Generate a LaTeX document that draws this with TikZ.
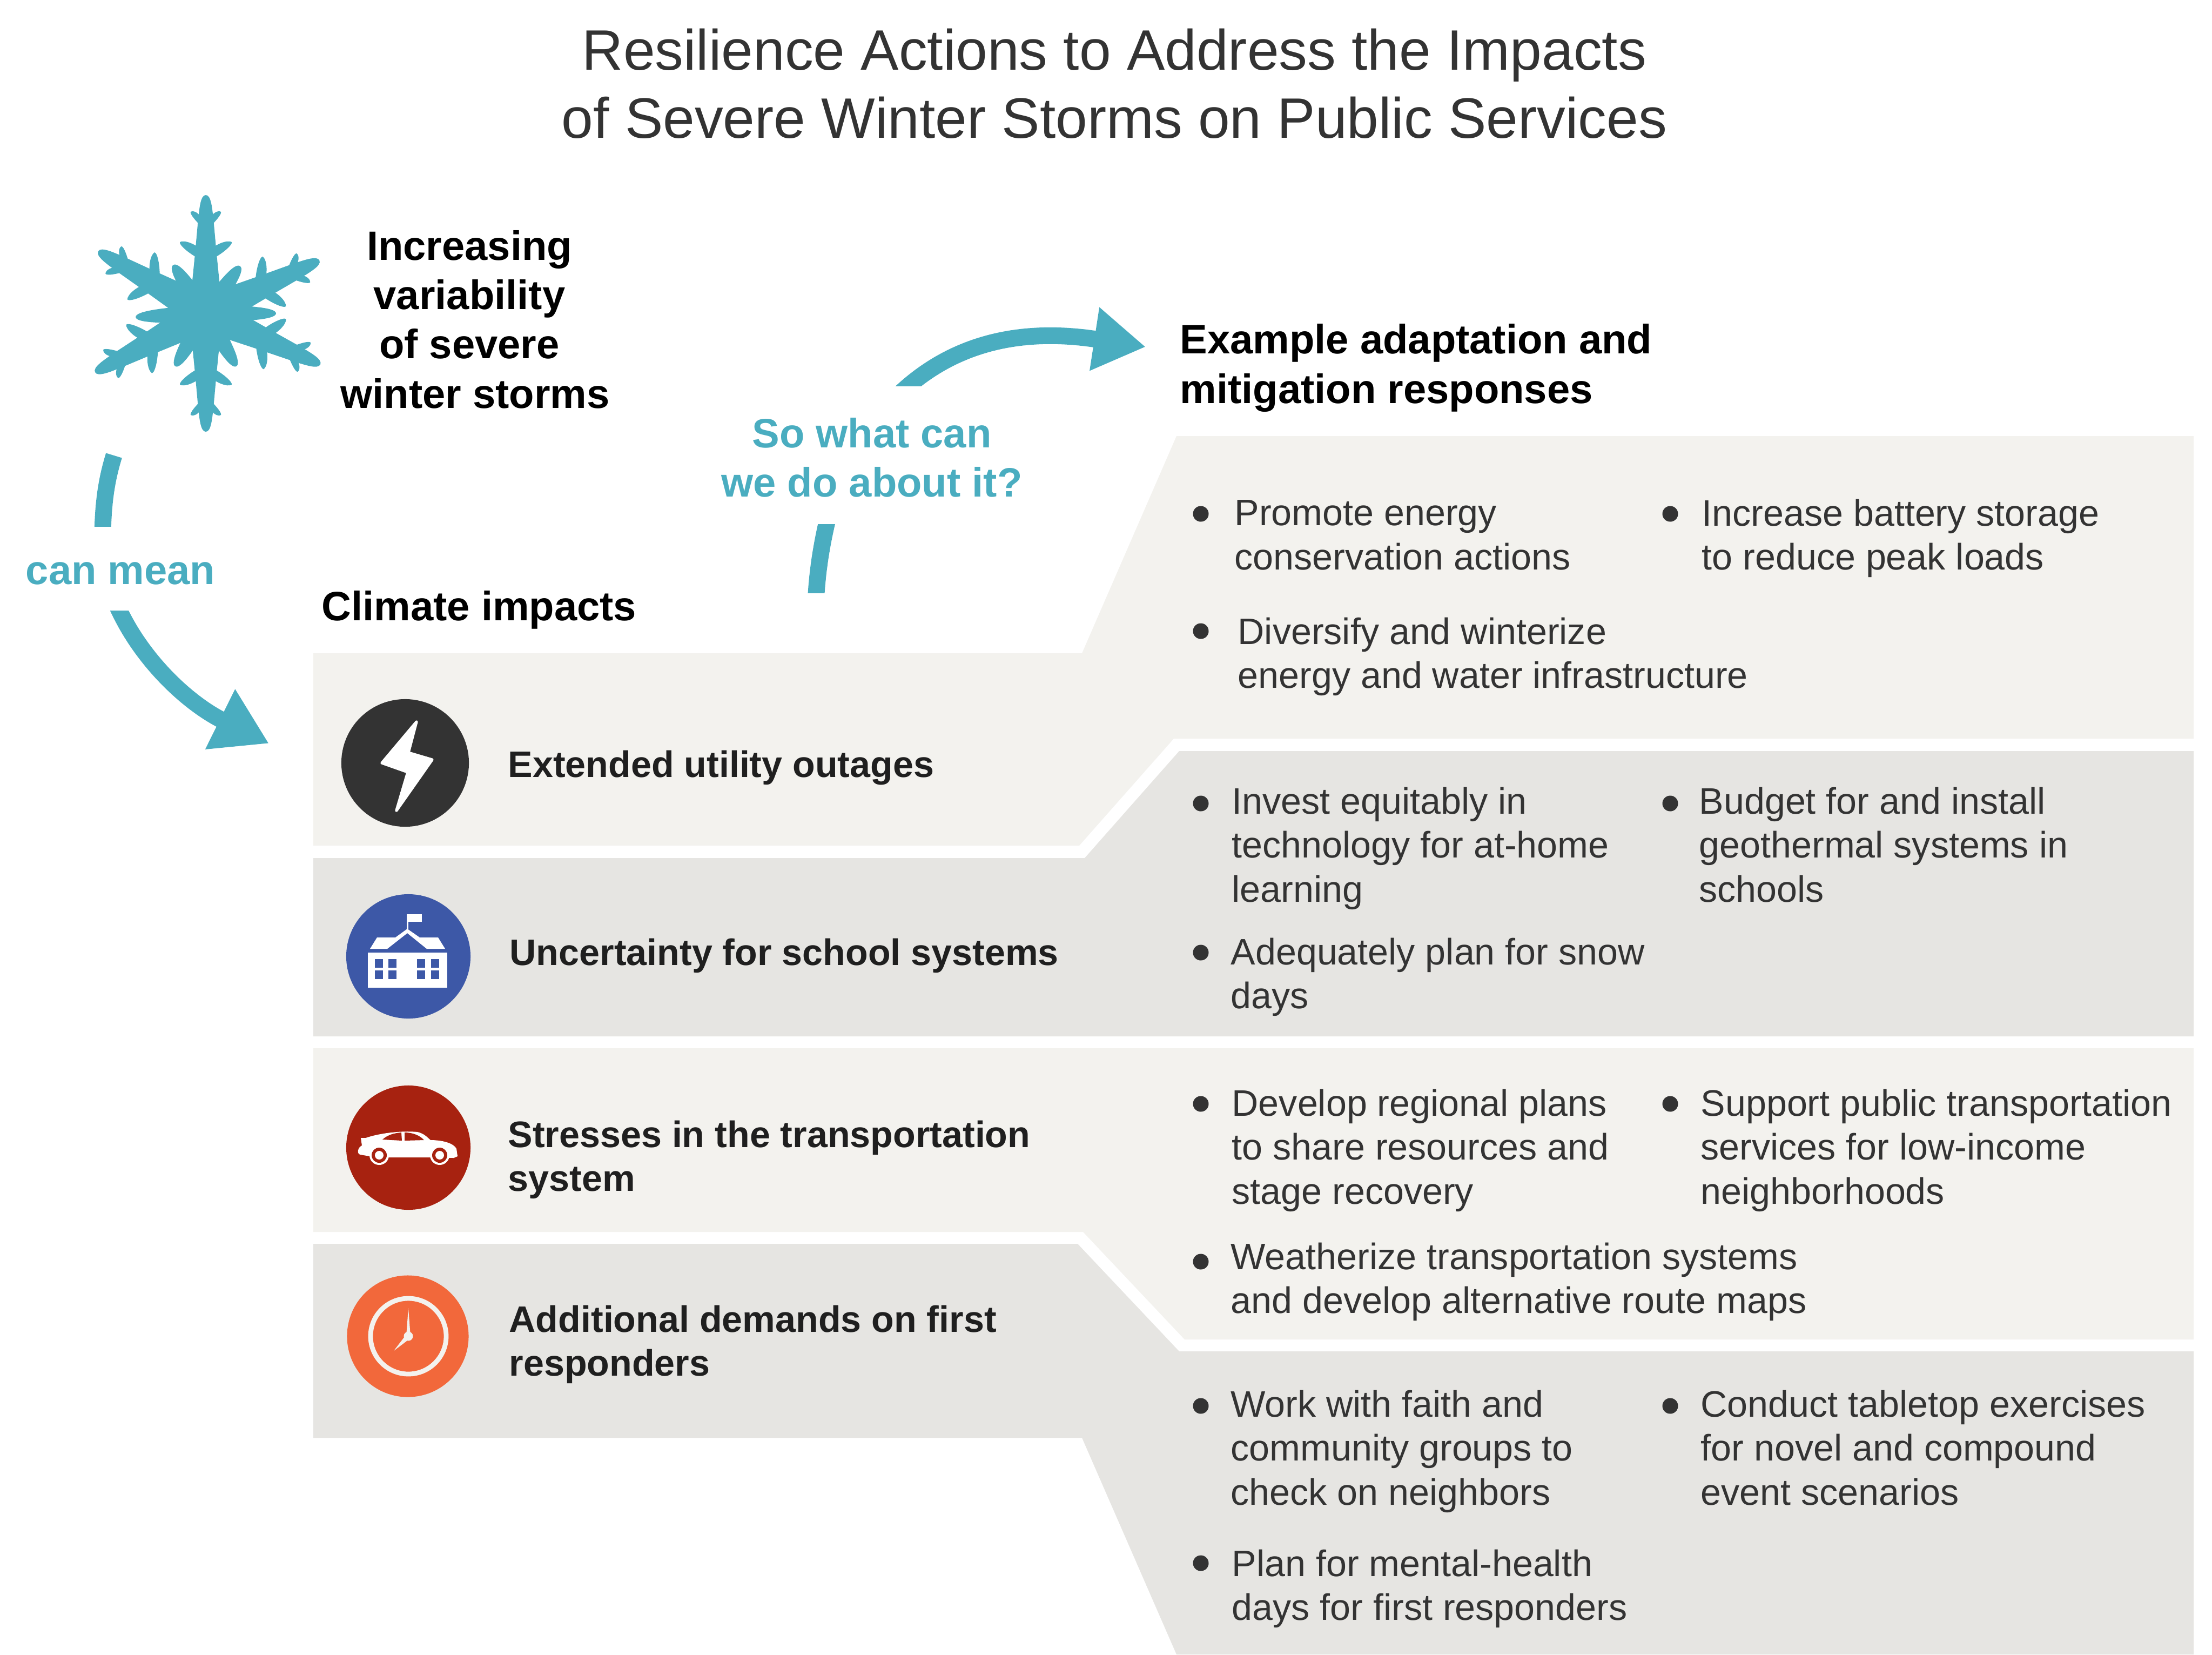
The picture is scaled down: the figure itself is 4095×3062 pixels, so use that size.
\documentclass[tikz,border=0pt]{standalone}
\usepackage{fontspec}
\setmainfont{Liberation Sans}
\usetikzlibrary{arrows.meta}
\definecolor{panellight}{HTML}{F3F2EE}
\definecolor{paneldark}{HTML}{E6E5E2}
\definecolor{stormteal}{HTML}{4AADC0}
\definecolor{inkdark}{HTML}{333333}
\definecolor{boltgrey}{HTML}{333333}
\definecolor{schoolblue}{HTML}{3D58A7}
\definecolor{carred}{HTML}{A72210}
\definecolor{clockorange}{HTML}{F2683B}
\tikzset{
	titletext/.style={font=\fontsize{30}{35.7}\selectfont, text=inkdark, align=center, inner sep=0pt},
	headtext/.style={font=\fontsize{21.6}{26}\selectfont\bfseries, text=black, inner sep=0pt},
	impacttext/.style={font=\fontsize{19.4}{23.25}\selectfont\bfseries, text=black!88, anchor=north west, align=left, inner sep=0pt, execute at begin node=\strut},
	bodytext/.style={font=\fontsize{19.4}{23.25}\selectfont, text=inkdark, anchor=north west, align=left, inner sep=0pt, execute at begin node=\strut},
	tealtext/.style={font=\fontsize{21.6}{26}\selectfont\bfseries, text=stormteal, align=center, inner sep=0pt},
	bulletdot/.style={circle, fill=inkdark, inner sep=0pt, minimum size=0.29cm},
	iconcircle/.style={circle, inner sep=0pt},
	tealline/.style={draw=stormteal, line width=8.8pt}
}
\begin{document}
\begin{tikzpicture}[x=0.01cm, y=-0.01cm]
			%%%%% START %%%%%
			\useasboundingbox (0, 0) rectangle (4095, 3062);
			
			% panels
			\fill[panellight] (580, 1209) -- (2003, 1209) -- (2178, 807) -- (4061, 807) -- (4061, 1367) -- (2173, 1367) -- (1998, 1565) -- (580, 1565) -- cycle;
			\fill[paneldark] (580, 1588) -- (2008, 1588) -- (2183, 1390) -- (4061, 1390) -- (4061, 1918) -- (580, 1918) -- cycle;
			\fill[panellight] (580, 1940) -- (4061, 1940) -- (4061, 2479) -- (2193, 2479) -- (2005, 2280) -- (580, 2280) -- cycle;
			\fill[paneldark] (580, 2302) -- (1995, 2302) -- (2183, 2501) -- (4061, 2501) -- (4061, 3062) -- (2178, 3062) -- (2003, 2661) -- (580, 2661) -- cycle;
			
			% title
			\node[titletext] (title) at (2063, 155) {Resilience Actions to Address the Impacts\\of Severe Winter Storms on Public Services};
			
			% snowflake
			\fill[stormteal] (381, 580) circle (50);
			\foreach \ang/\len in {0/1, 65/1.06, 114/1.06, 180/1, 242/1.06, 300/1.05} {
				\begin{scope}[shift={(381, 580)}, rotate=-\ang, scale=\len]
					\fill[stormteal] (-34, 0) -- (-26, -50) -- (-20, -110) -- (-15, -165) .. controls (-12, -195) and (-10, -219) .. (0, -219) .. controls (10, -219) and (12, -195) .. (15, -165) -- (20, -110) -- (26, -50) -- (34, 0) -- cycle;
					\foreach \s in {-1, 1} {
						\foreach \rb/\rt/\off/\w in {168/188/28/7, 108/132/48/9} {
							\fill[stormteal] ({\s*8}, {-\rb+\w}) .. controls ({\s*\off*0.6}, {-\rb-(\rt-\rb)*0.4+\w}) and ({\s*(\off+2)}, {-\rt+\w*0.6}) .. ({\s*\off}, -\rt) .. controls ({\s*(\off-\w*0.8)}, {-\rt-\w*0.5}) and ({\s*\off*0.4}, {-\rb-(\rt-\rb)*0.5-\w}) .. ({\s*8}, {-\rb-\w}) -- cycle;
						}
					}
				\end{scope}
			}
			\foreach \ang/\len in {36/108, 90/130, 150/113, 210/113, 267/130, 326/108} {
				\begin{scope}[shift={(381, 580)}, rotate=-\ang]
					\fill[stormteal] (-16, -30) .. controls (-14, -70) and (-12, -\len) .. (0, -\len) .. controls (12, -\len) and (14, -70) .. (16, -30) -- cycle;
				\end{scope}
			}
			\node[headtext, align=center] (storms) at (869, 591) {Increasing\\variability\\of severe\\\hspace*{0.21cm}winter storms};
			
			% can mean arrow
			\coordinate (canmeanA) at (211, 843);
			\coordinate (canmeanB) at (190, 974);
			\coordinate (canmeanC) at (212, 1110);
			\coordinate (canmeanD) at (498, 1376);
			\begin{scope}
				\clip (0, 800) rectangle (600, 974);
				\draw[tealline] (canmeanA) .. controls (198, 885) and (190, 930) .. (190, 1000);
			\end{scope}
			\begin{scope}
				\clip (0, 1130) rectangle (600, 1500);
				\draw[tealline, -{Triangle[length=101*0.01cm, width=117*0.01cm]}] (canmeanC) .. controls (255, 1215) and (345, 1300) .. (canmeanD);
			\end{scope}
			\node[tealtext] (canmean) at (223, 1061) {can mean};
			
			% so what arrow
			\coordinate (sowhatA) at (1530, 970);
			\coordinate (sowhatB) at (1511, 1097);
			\coordinate (sowhatC) at (1654, 740);
			\coordinate (sowhatD) at (2121, 642);
			\begin{scope}
				\clip (1400, 970) rectangle (1600, 1097);
				\draw[tealline] (1535, 950) .. controls (1522, 1000) and (1512, 1060) .. (1510, 1120);
			\end{scope}
			\begin{scope}
				\clip (1500, 714) rectangle (2200, 500);
				\draw[tealline, -{Triangle[length=96*0.01cm, width=112*0.01cm]}] (sowhatC) .. controls (1764, 628) and (1900, 608) .. (sowhatD);
			\end{scope}
			\node[tealtext] (sowhat) at (1614, 847) {So what can\\we do about it?};
			
			% column heads
			\node[headtext, anchor=west] (climate) at (595, 1129) {Climate impacts};
			\node[headtext, anchor=west, align=left] (example) at (2184, 681) {Example adaptation and\\mitigation responses};
			
			% impact rows
			\node[iconcircle, fill=boltgrey, minimum size=2.36cm] (bolticon) at (750, 1412) {};
			\fill[white, draw=white, line width=1.5pt, line join=round] (771, 1336) -- (756, 1393) -- (800, 1406) -- (734, 1500) -- (755, 1429) -- (707, 1412) -- cycle;
			\node[impacttext] (outages) at (940, 1381) {Extended utility outages};
			
			\node[iconcircle, fill=schoolblue, minimum size=2.3cm] (schoolicon) at (756, 1770) {};
			\fill[white] (753, 1692) rectangle (781, 1706);
			\fill[white] (753, 1692) rectangle (756, 1722);
			\fill[white] (685, 1756) -- (698, 1735) -- (732, 1735) -- (754, 1719) -- (777, 1735) -- (811, 1735) -- (824, 1756) -- (790, 1756) -- (754, 1727) -- (717, 1756) -- cycle;
			\fill[white] (681, 1763) rectangle (828, 1828);
			\foreach \wx in {694, 719, 772, 798} {
				\foreach \wy in {1775, 1796} {
					\fill[schoolblue] (\wx, \wy) rectangle ({\wx+15}, {\wy+16});
				}
			}
			\node[impacttext] (school) at (943, 1729) {Uncertainty for school systems};
			
			\node[iconcircle, fill=carred, minimum size=2.3cm] (caricon) at (756, 2124) {};
			\fill[white] (668, 2106) -- (677, 2106) .. controls (700, 2098) and (740, 2092) .. (773, 2095) .. controls (785, 2098) and (790, 2104) .. (797, 2110) .. controls (820, 2110) and (840, 2116) .. (845, 2126) -- (847, 2140) -- (840, 2143) -- (798, 2142) -- (718, 2142) -- (685, 2140) -- (667, 2137) .. controls (660, 2135) and (662, 2124) .. (670, 2120) -- cycle;
			\fill[carred] (708, 2109) .. controls (718, 2100) and (730, 2097) .. (743, 2096) -- (744, 2111) -- cycle;
			\fill[carred] (749, 2096) .. controls (765, 2096) and (778, 2102) .. (785, 2110) -- (749, 2111) -- cycle;
			\foreach \wx in {702, 814} {
				\fill[white] (\wx, 2138) circle (18);
				\fill[carred] (\wx, 2138) circle (14);
				\fill[white] (\wx, 2138) circle (8);
			}
			\node[impacttext] (transport) at (940, 2073) {Stresses in the transportation\\system};
			
			\node[iconcircle, fill=clockorange, minimum size=2.25cm] (clockicon) at (755, 2473) {};
			\draw[panellight, line width=2.5pt] (756, 2473) circle (70);
			\fill[panellight] (756, 2473) circle (8.5);
			\fill[panellight] (752, 2474) -- (756, 2421) -- (760, 2474) -- cycle;
			\fill[panellight] (752, 2470) -- (729, 2500) -- (758, 2478) -- cycle;
			\node[impacttext] (firstresp) at (942, 2415) {Additional demands on first\\responders};
			
			% responses, energy
			\node[bulletdot] (energya) at (2223, 951) {};
			\node[bodytext] (energyatext) at (2285, 925) {Promote energy\\conservation actions};
			\node[bulletdot] (energyb) at (3092, 951) {};
			\node[bodytext] (energybtext) at (3150, 923) {Increase battery storage\\to reduce peak loads};
			\node[bulletdot] (energyc) at (2223, 1168) {};
			\node[bodytext] (energyctext) at (2291, 1142) {Diversify and winterize\\energy and water infrastructure};
			
			% responses, school
			\node[bulletdot] (schoola) at (2223, 1487) {};
			\node[bodytext] (schoolatext) at (2280, 1456) {Invest equitably in\\technology for at-home\\learning};
			\node[bulletdot] (schoolb) at (3092, 1487) {};
			\node[bodytext] (schoolbtext) at (3145, 1456) {Budget for and install\\geothermal systems in\\schools};
			\node[bulletdot] (schoolc) at (2223, 1763) {};
			\node[bodytext] (schoolctext) at (2278, 1735) {Adequately plan for snow\\days};
			
			% responses, transport
			\node[bulletdot] (transa) at (2223, 2043) {};
			\node[bodytext] (transatext) at (2280, 2015) {Develop regional plans\\to share resources and\\stage recovery};
			\node[bulletdot] (transb) at (3092, 2043) {};
			\node[bodytext] (transbtext) at (3148, 2015) {Support public transportation\\services for low-income\\neighborhoods};
			\node[bulletdot] (transc) at (2223, 2335) {};
			\node[bodytext] (transctext) at (2278, 2299) {Weatherize transportation systems\\and develop alternative route maps};
			
			% responses, first responders
			\node[bulletdot] (firsta) at (2223, 2602) {};
			\node[bodytext] (firstatext) at (2278, 2572) {Work with faith and\\community groups to\\check on neighbors};
			\node[bulletdot] (firstb) at (3092, 2602) {};
			\node[bodytext] (firstbtext) at (3148, 2572) {Conduct tabletop exercises\\for novel and compound\\event scenarios};
			\node[bulletdot] (firstc) at (2223, 2893) {};
			\node[bodytext] (firstctext) at (2280, 2867) {Plan for mental-health\\days for first responders};
			
			%%%%% END %%%%%
		\end{tikzpicture}
\end{document}
